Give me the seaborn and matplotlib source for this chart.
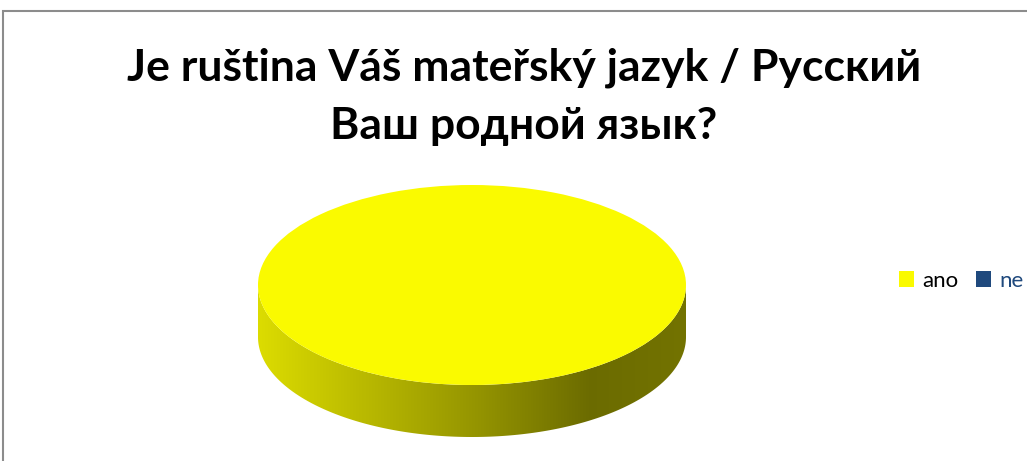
import matplotlib

matplotlib.use("Agg")
import matplotlib.pyplot as plt
import numpy as np
import seaborn as sns
from matplotlib.patches import Polygon, Rectangle


# Data of the chart.
TITLE = "Je ruština Váš mateřský jazyk / Русский\nВаш родной язык?"
CATEGORIES = ["ano", "ne"]
VALUES = [100, 0]
COLORS = ["#FAFA00", "#1F497D"]
LEGEND_TEXT_COLORS = ["black", "#1F497D"]

# Look of the 3D pie.
DEPTH = 0.52
SHADE_X = [-1.0, -0.5, 0.0, 0.55, 1.0]
SHADE_F = [0.88, 0.74, 0.60, 0.43, 0.46]

W, H, DPI = 1027, 461, 100


def px_box(left, top, width, height):
    """Converts a pixel box (top-left origin) to figure fractions."""
    return [left / W, 1 - (top + height) / H, width / W, height / H]


def side_polygon(theta1, theta2):
    """Front side of a slice between two angles (degrees)."""
    a1 = max(theta1, 180.0)
    a2 = min(theta2, 360.0)
    if a2 <= a1:
        return None
    t = np.radians(np.linspace(a1, a2, 200))
    top = np.column_stack([np.cos(t), np.sin(t)])
    bottom = np.column_stack([np.cos(t[::-1]), np.sin(t[::-1]) - DEPTH])
    return np.vstack([top, bottom])


def main() -> None:
    sns.set_theme(style="white")
    plt.rcParams["font.family"] = ["Lato", "DejaVu Sans"]

    fig = plt.figure(figsize=(W / DPI, H / DPI), dpi=DPI)

    # Gray chart border (cut off at the right and bottom).
    fig.patches.append(
        Rectangle((3 / W, -0.1), 1.2, 1 - 11 / H + 0.1, transform=fig.transFigure,
                  fill=False, edgecolor="#8c8c8c", linewidth=1.5)
    )

    fig.text(0.51, 1 - 97 / H, TITLE, ha="center", va="center", color="black",
             fontsize=32, fontweight="bold", linespacing=1.55)

    ax = fig.add_axes(px_box(258, 175, 428, 280))
    wedges, _ = ax.pie(VALUES, colors=COLORS, startangle=90, counterclock=False,
                       wedgeprops={"linewidth": 0})
    ax.set_aspect("auto")
    ax.axis("off")

    xs = np.linspace(-1, 1, 400)
    shade = np.interp(xs, SHADE_X, SHADE_F)
    for wedge, color in zip(wedges, COLORS):
        span = wedge.theta2 - wedge.theta1
        if span <= 0:
            continue
        t1 = wedge.theta1 % 360
        t2 = t1 + span
        for offset in (0, -360):
            poly = side_polygon(t1 + offset, t2 + offset)
            if poly is None:
                continue
            rgb = np.array(matplotlib.colors.to_rgb(color))
            img = shade[None, :, None] * rgb[None, None, :]
            patch = Polygon(poly, closed=True, facecolor="none", edgecolor="none")
            ax.add_patch(patch)
            im = ax.imshow(img, extent=(-1, 1, -1 - DEPTH, 0), aspect="auto",
                           zorder=0.5, interpolation="bilinear")
            im.set_clip_path(patch)
    ax.set_xlim(-1, 1)
    ax.set_ylim(-1.7, 1.1)

    leg = fig.legend(wedges, CATEGORIES, loc="center", ncol=2, frameon=False,
                     bbox_to_anchor=(961 / W, 1 - 281 / H), fontsize=16,
                     handlelength=0.7, handleheight=0.7, handletextpad=0.35,
                     columnspacing=0.8)
    for text, color in zip(leg.get_texts(), LEGEND_TEXT_COLORS):
        text.set_color(color)

    fig.savefig("out.png", dpi=DPI)
    plt.close(fig)


if __name__ == "__main__":
    main()
